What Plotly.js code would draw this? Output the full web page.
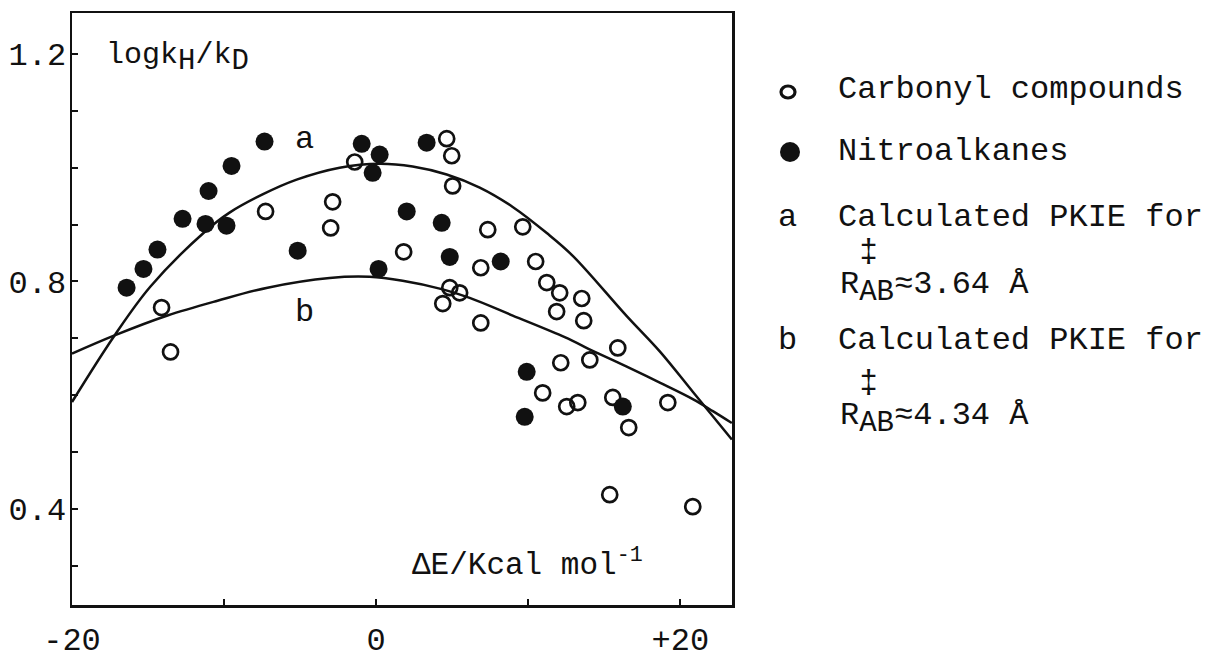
<!DOCTYPE html>
<html>
<head>
<meta charset="utf-8">
<script src="https://cdn.plot.ly/plotly-3.0.1.min.js"></script>
<style>
  html, body { margin: 0; padding: 0; background: #fff; }
  #chart { width: 1208px; height: 660px; }
</style>
</head>
<body>
<div id="chart"></div>
<script>
// ---- Data ----
// Carbonyl compounds (open circles): ΔE (kcal/mol), log kH/kD
const carbonylX = [4.64, 4.97, -1.41, 5.03, -7.27, -2.86, -2.99, 7.34, 9.64, 1.81,
                   6.88, 10.49, -14.11, -13.52, 11.22, 12.07, 13.52, 4.84, 5.49, 4.38,
                   11.87, 13.65, 6.88, 15.89, 12.14, 14.05, 10.95, 12.53, 13.26, 15.56,
                   19.18, 16.61, 15.36, 20.82];
const carbonylY = [1.051, 1.021, 1.010, 0.968, 0.923, 0.940, 0.894, 0.891, 0.896, 0.852,
                   0.824, 0.835, 0.754, 0.676, 0.798, 0.780, 0.770, 0.789, 0.780, 0.761,
                   0.747, 0.731, 0.727, 0.683, 0.657, 0.662, 0.604, 0.580, 0.587, 0.596,
                   0.587, 0.543, 0.425, 0.404];

// Nitroalkanes (filled circles)
const nitroX = [-7.34, -9.51, -11.02, -12.73, -11.22, -9.84, -14.38, -15.30, -16.41, -5.16,
                -0.95, 0.23, -0.23, 0.16, 3.32, 2.01, 4.31, 4.84, 8.19, 9.90,
                16.22, 9.77];
const nitroY = [1.046, 1.003, 0.959, 0.910, 0.901, 0.898, 0.856, 0.822, 0.789, 0.854,
                1.042, 1.023, 0.991, 0.822, 1.044, 0.923, 0.903, 0.843, 0.835, 0.641,
                0.580, 0.562];

// Curve a: calculated PKIE for R‡AB ≈ 3.64 Å
const curveAX = [-20.0, -17.2, -14.84, -11.28, -9.64, -7.47, -5.23, -2.40, 0.23, 2.40,
                 4.64, 6.81, 8.98, 11.22, 12.93, 16.48, 18.65, 20.82, 22.14, 23.39];
const curveAY = [0.588, 0.705, 0.791, 0.887, 0.921, 0.953, 0.979, 1.000, 1.007, 1.002,
                 0.988, 0.965, 0.931, 0.885, 0.845, 0.739, 0.677, 0.606, 0.563, 0.522];

// Curve b: calculated PKIE for R‡AB ≈ 4.34 Å
const curveBX = [-20.0, -17.2, -13.72, -10.43, -7.14, -3.06, -0.43, 1.74, 4.38, 6.15,
                 8.98, 12.4, 14.24, 16.48, 18.65, 20.82, 22.14, 23.39];
const curveBY = [0.673, 0.705, 0.740, 0.766, 0.789, 0.806, 0.808, 0.801, 0.786, 0.771,
                 0.740, 0.702, 0.678, 0.650, 0.622, 0.593, 0.572, 0.551];

// Axis ticks
const xTickVals = [-20, -10, 0, 10, 20];
const xTickText = ['-20', '', '0', '', '+20'];
const yTickVals = [0.3, 0.4, 0.5, 0.6, 0.7, 0.8, 0.9, 1.0, 1.1, 1.2];
const yTickText = ['', '0.4', '', '', '', '0.8', '', '', '', '1.2'];

// Legend / label texts
const legendCarbonyl = 'Carbonyl compounds';
const legendNitro = 'Nitroalkanes';
const legendCalc = 'Calculated PKIE for';
const subBig = (s) => '<sub><span style="font-size:29px">' + s + '</span></sub>';
const legendRa = 'R' + subBig('AB') + '≈3.64 Å';
const legendRb = 'R' + subBig('AB') + '≈4.34 Å';
const yTitle = 'logk' + subBig('H') + '/k' + subBig('D');
const xTitle = 'ΔE/Kcal mol<sup>-1</sup>';

// ---- Layout geometry ----
const W = 1208, H = 660;
const M = { l: 72, r: 476, t: 13, b: 55 };
const plotW = W - M.l - M.r, plotH = H - M.t - M.b;
const px = (x) => (x - M.l) / plotW;           // page pixel -> paper x
const py = (y) => (H - M.b - y) / plotH;       // page pixel -> paper y

const FONT = 'Liberation Mono, Courier New, monospace';
const INK = '#111';

const traces = [
  { x: curveAX, y: curveAY, mode: 'lines', line: { color: INK, width: 2.5, shape: 'spline', smoothing: 1 },
    hoverinfo: 'skip', showlegend: false },
  { x: curveBX, y: curveBY, mode: 'lines', line: { color: INK, width: 2.5, shape: 'spline', smoothing: 1 },
    hoverinfo: 'skip', showlegend: false },
  { x: carbonylX, y: carbonylY, mode: 'markers', name: legendCarbonyl,
    marker: { symbol: 'circle-open', size: 15, color: INK, line: { color: INK, width: 2.7 } },
    showlegend: false, cliponaxis: false },
  { x: nitroX, y: nitroY, mode: 'markers', name: legendNitro,
    marker: { symbol: 'circle', size: 18, color: INK, line: { width: 0 } },
    showlegend: false, cliponaxis: false }
];

function ann(text, x, y, opts) {
  return Object.assign({
    text: text, xref: 'paper', yref: 'paper', x: px(x), y: py(y),
    xanchor: 'left', yanchor: 'middle', showarrow: false,
    font: { family: FONT, size: 32, color: INK }
  }, opts || {});
}

const annotations = [
  ann(yTitle, 104, 58, { font: { family: FONT, size: 30, color: INK } }),
  ann(xTitle, 410, 563, { font: { family: FONT, size: 31, color: INK } }),
  { text: 'a', xref: 'x', yref: 'y', x: -4.7, y: 1.049, showarrow: false,
    font: { family: FONT, size: 32, color: INK } },
  { text: 'b', xref: 'x', yref: 'y', x: -4.7, y: 0.745, showarrow: false,
    font: { family: FONT, size: 32, color: INK } },
  ann(legendCarbonyl, 836, 90),
  ann(legendNitro, 836, 152),
  ann('a', 787, 217, { xanchor: 'center' }),
  ann(legendCalc, 836, 217),
  ann('‡', 868, 253, { xanchor: 'center', font: { family: FONT, size: 32, color: INK } }),
  ann(legendRa, 838, 288),
  ann('b', 787, 340, { xanchor: 'center' }),
  ann(legendCalc, 836, 340),
  ann('‡', 868, 383, { xanchor: 'center', font: { family: FONT, size: 32, color: INK } }),
  ann(legendRb, 838, 418)
];

const shapes = [
  { type: 'circle', xref: 'paper', yref: 'paper', xsizemode: 'pixel', ysizemode: 'pixel',
    xanchor: px(788), yanchor: py(92), x0: -7, x1: 7, y0: -6, y1: 6,
    line: { color: INK, width: 3.2 }, fillcolor: 'rgba(0,0,0,0)' },
  { type: 'circle', xref: 'paper', yref: 'paper', xsizemode: 'pixel', ysizemode: 'pixel',
    xanchor: px(790), yanchor: py(152), x0: -10, x1: 10, y0: -10, y1: 10,
    line: { color: INK, width: 0 }, fillcolor: INK }
];

const axisCommon = {
  showline: true, mirror: true, linecolor: INK, linewidth: 2.5,
  showgrid: false, zeroline: false,
  ticks: 'inside', ticklen: 6, tickwidth: 2, tickcolor: INK,
  tickfont: { family: FONT, size: 32, color: INK },
  tickmode: 'array', fixedrange: true
};

const layout = {
  width: W, height: H,
  margin: M,
  paper_bgcolor: '#fff', plot_bgcolor: '#fff',
  showlegend: false,
  xaxis: Object.assign({}, axisCommon, {
    range: [-20, 23.4], tickvals: xTickVals, ticktext: xTickText, ticklabelstandoff: 4
  }),
  yaxis: Object.assign({}, axisCommon, {
    range: [0.231, 1.272], tickvals: yTickVals, ticktext: yTickText, ticklabelstandoff: -3
  }),
  annotations: annotations,
  shapes: shapes
};

Plotly.newPlot('chart', traces, layout, { staticPlot: true, displayModeBar: false });
</script>
</body>
</html>
